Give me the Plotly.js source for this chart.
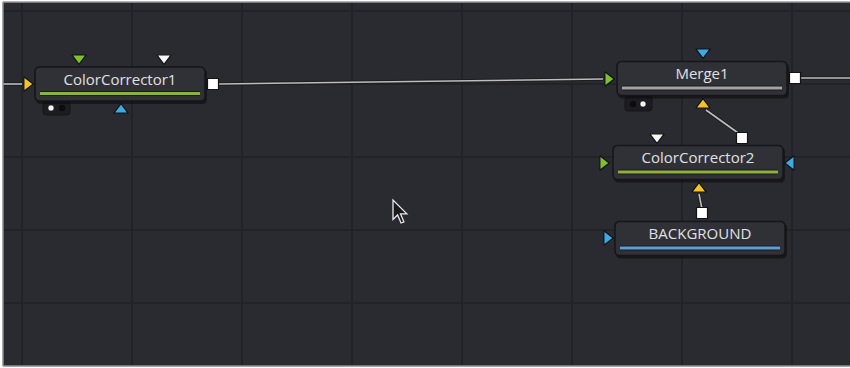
<!DOCTYPE html>
<html>
<head>
<meta charset="utf-8">
<script src="https://cdn.plot.ly/plotly-3.0.1.min.js"></script>
<style>html,body{margin:0;padding:0;background:#fff;}#chart{width:850px;height:368px;}</style>
</head>
<body>
<div id="chart"></div>
<script>
// Node graph data (graph layout coordinates)
const nodeNames = ['ColorCorrector1', 'Merge1', 'ColorCorrector2', 'BACKGROUND'];
const nodeX = [120, 702, 698, 700];
const nodeY = [84, 78.5, 162.5, 238.5];
const nodeBarColor = ['#8db13d', '#a3a3a6', '#8db13d', '#5b9fd5'];

// Ports (inputs as triangles, outputs as squares)
const portX = [27, 79, 164, 121, 213, 608, 703, 703, 795, 603, 791, 657, 742, 699, 607, 702];
const portY = [84, 58, 58, 110, 84, 79, 52, 105, 78, 163, 163, 137, 138, 189, 238, 213];
const portSymbol = ['triangle-right', 'triangle-down', 'triangle-down', 'triangle-up', 'square',
  'triangle-right', 'triangle-down', 'triangle-up', 'square',
  'triangle-right', 'triangle-left', 'triangle-down', 'square', 'triangle-up',
  'triangle-right', 'square'];
const portColor = ['#f3c424', '#80c02a', '#f6f6f6', '#3eaae4', '#ffffff',
  '#80c02a', '#3eaae4', '#f3c424', '#ffffff',
  '#80c02a', '#3eaae4', '#f6f6f6', '#ffffff', '#f3c424',
  '#3eaae4', '#ffffff'];

// Connections between ports
const linkX0 = [3, 218, 801, 741, 702];
const linkY0 = [84, 84, 78, 135, 209];
const linkX1 = [22, 603, 850, 706, 699];
const linkY1 = [84, 79, 78, 110, 194];

// View-mode dots under nodes
const dotX = [51, 62, 633, 643];
const dotY = [108, 108, 104, 104];
const dotColor = ['#f4f4f4', '#0d0d0f', '#0d0d0f', '#f4f4f4'];

// Mouse cursor position
const cursorX = [393];
const cursorY = [200];

const W = 170, H = 34;

function roundRect(x0, y0, x1, y1, r) {
  return `M${x0 + r},${y0} L${x1 - r},${y0} Q${x1},${y0} ${x1},${y0 + r} L${x1},${y1 - r} Q${x1},${y1} ${x1 - r},${y1} L${x0 + r},${y1} Q${x0},${y1} ${x0},${y1 - r} L${x0},${y0 + r} Q${x0},${y0} ${x0 + r},${y0} Z`;
}

const shapes = [];
// frame border
shapes.push({type: 'line', xref: 'paper', yref: 'paper', x0: 0, x1: 0, y0: 0, y1: 1, line: {color: '#8d8d8f', width: 1.5}, layer: 'above'});
shapes.push({type: 'line', xref: 'paper', yref: 'paper', x0: 0, x1: 1, y0: 1, y1: 1, line: {color: '#9a9a9c', width: 1.5}, layer: 'above'});
shapes.push({type: 'line', xref: 'paper', yref: 'paper', x0: 0, x1: 1, y0: 0, y1: 0, line: {color: '#8d8d8f', width: 1.5}, layer: 'above'});

// dot boxes
shapes.push({type: 'path', path: roundRect(43, 101, 70, 115, 3), fillcolor: '#1c1d21', line: {color: '#141518', width: 1}, layer: 'above'});
shapes.push({type: 'path', path: roundRect(625, 96, 652, 111, 3), fillcolor: '#1c1d21', line: {color: '#141518', width: 1}, layer: 'above'});

// nodes
for (let i = 0; i < nodeNames.length; i++) {
  const x0 = nodeX[i] - W / 2, x1 = nodeX[i] + W / 2;
  const y0 = nodeY[i] - H / 2, y1 = nodeY[i] + H / 2;
  shapes.push({type: 'path', path: roundRect(x0 + 1, y0 + 2, x1 + 2, y1 + 3, 5), fillcolor: 'rgba(10,10,12,0.55)', line: {width: 0}, layer: 'above'});
  shapes.push({type: 'path', path: roundRect(x0, y0, x1, y1, 5), fillcolor: '#303137', line: {color: '#151619', width: 1.5}, layer: 'above'});
  shapes.push({type: 'line', x0: x0 + 5, x1: x1 - 5, y0: nodeY[i] + 9.5, y1: nodeY[i] + 9.5, line: {color: '#18191c', width: 5}, layer: 'above'});
  shapes.push({type: 'line', x0: x0 + 5, x1: x1 - 5, y0: nodeY[i] + 9.5, y1: nodeY[i] + 9.5, line: {color: nodeBarColor[i], width: 3}, layer: 'above'});
}

// cursor arrow
const cx = cursorX[0], cy = cursorY[0], s = 1.15;
const arrow = [[0, 0], [0, 17], [4, 13], [7, 20], [9.5, 19], [6.5, 12], [12, 12]];
const arrowPath = 'M' + arrow.map(p => `${cx + p[0] * s},${cy + p[1] * s}`).join(' L') + ' Z';
shapes.push({type: 'path', path: arrowPath, fillcolor: '#1a1a1c', line: {color: '#e8e8e8', width: 1.3}, layer: 'above'});

const traces = [];
for (let i = 0; i < linkX0.length; i++) {
  traces.push({x: [linkX0[i], linkX1[i]], y: [linkY0[i], linkY1[i]], mode: 'lines', line: {color: '#1c1d20', width: 3.5}, hoverinfo: 'skip', showlegend: false});
  traces.push({x: [linkX0[i], linkX1[i]], y: [linkY0[i], linkY1[i]], mode: 'lines', line: {color: '#bdbdc0', width: 1.6}, hoverinfo: 'skip', showlegend: false});
}

const layout = {
  width: 850, height: 368,
  margin: {l: 3, r: 0, t: 2, b: 2},
  paper_bgcolor: '#ffffff',
  plot_bgcolor: '#2a2b30',
  showlegend: false,
  hovermode: false,
  xaxis: {range: [3, 850], showgrid: true, gridcolor: '#222327', gridwidth: 2, tick0: 22, dtick: 110, zeroline: false, showticklabels: false, ticks: '', fixedrange: true},
  yaxis: {range: [366, 2], showgrid: true, gridcolor: '#222327', gridwidth: 2, tick0: 11, dtick: 73, zeroline: false, showticklabels: false, ticks: '', fixedrange: true},
  shapes: shapes
};

Plotly.newPlot('chart', traces, layout, {displayModeBar: false, staticPlot: true});
</script>
<div id="overlay" style="position:absolute;left:0;top:0;width:850px;height:368px;"></div>
<script>
const overTraces = [
  {x: portX, y: portY, mode: 'markers', marker: {symbol: portSymbol, color: portColor, opacity: 1, size: portSymbol.map(sy => sy === 'square' ? 11 : 12.5), line: {color: '#111214', width: 1.2}}, hoverinfo: 'skip'},
  {x: dotX, y: dotY, mode: 'markers', marker: {symbol: 'circle', color: dotColor, opacity: 1, size: 6, line: {color: '#0d0d0f', width: 0.5}}, hoverinfo: 'skip'},
  {x: nodeX, y: nodeY.map(v => v - 3), mode: 'text', text: nodeNames, textposition: 'middle center', textfont: {family: 'Open Sans, sans-serif', size: 15, color: '#e0e0e1'}, hoverinfo: 'skip'}
];
const overLayout = {
  width: 850, height: 368,
  margin: {l: 3, r: 0, t: 2, b: 2},
  paper_bgcolor: 'rgba(0,0,0,0)',
  plot_bgcolor: 'rgba(0,0,0,0)',
  showlegend: false,
  hovermode: false,
  xaxis: {range: [3, 850], showgrid: false, zeroline: false, showticklabels: false, ticks: '', fixedrange: true},
  yaxis: {range: [366, 2], showgrid: false, zeroline: false, showticklabels: false, ticks: '', fixedrange: true}
};
Plotly.newPlot('overlay', overTraces, overLayout, {displayModeBar: false, staticPlot: true});
</script>
</body>
</html>
